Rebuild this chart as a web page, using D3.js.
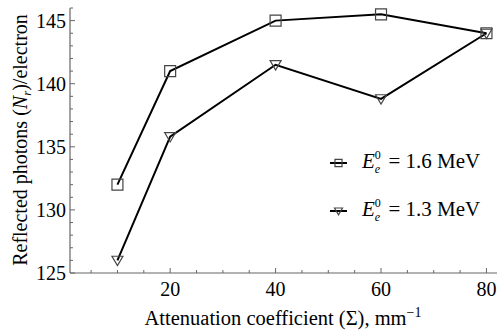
<!DOCTYPE html>
<html>
<head>
<meta charset="utf-8">
<script src="https://cdn.jsdelivr.net/npm/d3@7"></script>
<style>
  body { margin: 0; background: #fff; }
</style>
</head>
<body>
<div id="chart"></div>
<script>
var xValues = [10, 20, 40, 60, 80];
var series16 = [132, 141, 145, 145.5, 144];
var series13 = [126, 135.8, 141.5, 138.8, 144];
var xMajorTicks = [20, 40, 60, 80];
var yMajorTicks = [125, 130, 135, 140, 145];

var width = 497, height = 330;
var serif = '"Liberation Serif", "Times New Roman", "DejaVu Serif", serif';

var svg = d3.select('#chart').append('svg')
    .attr('width', width)
    .attr('height', height)
    .attr('font-family', serif)
    .style('font-family', serif);

var x = d3.scaleLinear().domain([1, 82]).range([70, 497]);
var y = d3.scaleLinear().domain([125, 146]).range([273, 8]);

// axes: ticks pointing inward
var axisColor = '#666';
var xMinor = d3.range(5, 81, 5);
var yMinor = d3.range(125, 146.1, 1);

var g = svg.append('g');

g.append('line')
    .attr('x1', x.range()[0]).attr('x2', x.range()[1])
    .attr('y1', y(125)).attr('y2', y(125))
    .attr('stroke', axisColor).attr('stroke-width', 1.2);
g.append('line')
    .attr('x1', x(1)).attr('x2', x(1))
    .attr('y1', y(125)).attr('y2', y(146))
    .attr('stroke', axisColor).attr('stroke-width', 1.2);

g.selectAll('.xt').data(xMinor).enter().append('line')
    .attr('x1', function(d) { return x(d); })
    .attr('x2', function(d) { return x(d); })
    .attr('y1', y(125))
    .attr('y2', function(d) { return y(125) - (d % 20 === 0 ? 5 : 3); })
    .attr('stroke', axisColor).attr('stroke-width', 1);

g.selectAll('.yt').data(yMinor).enter().append('line')
    .attr('x1', x(1))
    .attr('x2', function(d) { return x(1) + (d % 5 === 0 ? 5 : 3); })
    .attr('y1', function(d) { return y(d); })
    .attr('y2', function(d) { return y(d); })
    .attr('stroke', axisColor).attr('stroke-width', 1);

g.selectAll('.xl').data(xMajorTicks).enter().append('text')
    .attr('x', function(d) { return x(d); })
    .attr('y', 296)
    .attr('text-anchor', 'middle')
    .attr('font-size', 20)
    .text(function(d) { return d; });

g.selectAll('.yl').data(yMajorTicks).enter().append('text')
    .attr('x', 66)
    .attr('y', function(d) { return y(d); })
    .attr('dy', '0.35em')
    .attr('text-anchor', 'end')
    .attr('font-size', 20)
    .text(function(d) { return d; });

// axis titles
var xt = svg.append('text')
    .attr('x', 283).attr('y', 325)
    .attr('text-anchor', 'middle')
    .attr('font-size', 20.5);
xt.append('tspan').text('Attenuation coefficient (\u03A3), mm');
xt.append('tspan').attr('dy', -8).attr('font-size', 14).text('\u22121');

var yt = svg.append('text')
    .attr('transform', 'translate(27,140) rotate(-90)')
    .attr('text-anchor', 'middle')
    .attr('font-size', 20);
yt.append('tspan').text('Reflected photons (');
yt.append('tspan').attr('font-style', 'italic').text('N');
yt.append('tspan').attr('font-style', 'italic').attr('font-size', 13).attr('dy', 4).text('r');
yt.append('tspan').attr('dy', -4).text(')/electron');

// lines
var line = d3.line()
    .x(function(d) { return x(d[0]); })
    .y(function(d) { return y(d[1]); });

function pairs(vals) { return xValues.map(function(v, i) { return [v, vals[i]]; }); }

svg.append('path').datum(pairs(series16))
    .attr('d', line).attr('fill', 'none')
    .attr('stroke', '#000').attr('stroke-width', 2);
svg.append('path').datum(pairs(series13))
    .attr('d', line).attr('fill', 'none')
    .attr('stroke', '#000').attr('stroke-width', 2);

var markStroke = '#444';
var sq = d3.symbol().type(d3.symbolSquare).size(120);
var tri = function(s) {
  return 'M' + (-s) + ',' + (-s * 0.75) + 'L' + s + ',' + (-s * 0.75) + 'L0,' + (s * 0.95) + 'Z';
};

svg.selectAll('.sq').data(pairs(series16)).enter().append('path')
    .attr('transform', function(d) { return 'translate(' + x(d[0]) + ',' + y(d[1]) + ')'; })
    .attr('d', sq())
    .attr('fill', 'none').attr('stroke', markStroke).attr('stroke-width', 1.2);

svg.selectAll('.tr').data(pairs(series13)).enter().append('path')
    .attr('transform', function(d) { return 'translate(' + x(d[0]) + ',' + y(d[1]) + ')'; })
    .attr('d', tri(5.5))
    .attr('fill', 'none').attr('stroke', markStroke).attr('stroke-width', 1.2);

// legend
var legend = [
  {label: '1.6', mark: 'sq', y: 163},
  {label: '1.3', mark: 'tr', y: 211}
];
legend.forEach(function(l) {
  svg.append('line')
      .attr('x1', 330).attr('x2', 347)
      .attr('y1', l.y).attr('y2', l.y)
      .attr('stroke', '#000').attr('stroke-width', 2);
  svg.append('path')
      .attr('transform', 'translate(338.5,' + l.y + ')')
      .attr('d', l.mark === 'sq' ? d3.symbol().type(d3.symbolSquare).size(50)() : tri(4))
      .attr('fill', 'none').attr('stroke', markStroke).attr('stroke-width', 1.2);
  var t = svg.append('text')
      .attr('x', 362).attr('y', l.y + 5)
      .attr('font-size', 21);
  t.append('tspan').attr('font-style', 'italic').text('E');
  t.append('tspan').attr('font-size', 12).attr('dy', -9).text('0');
  t.append('tspan').attr('font-style', 'italic').attr('font-size', 12).attr('dx', -6).attr('dy', 14).text('e');
  t.append('tspan').attr('dy', -5).attr('dx', 3).text(' = ' + l.label + ' MeV');
});
</script>
</body>
</html>
